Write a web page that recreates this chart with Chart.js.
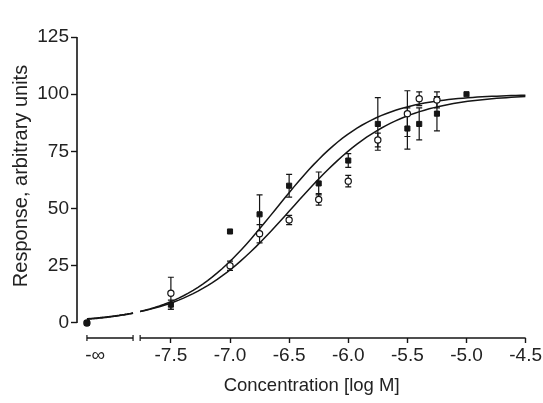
<!DOCTYPE html>
<html>
<head>
<meta charset="utf-8">
<script src="https://cdn.jsdelivr.net/npm/chart.js@4/dist/chart.umd.min.js"></script>
<style>
  html, body { margin: 0; padding: 0; background: #fff; }
  #wrap { width: 543px; height: 403px; }
</style>
</head>
<body>
<div id="wrap"><canvas id="c" width="543" height="403"></canvas></div>
<script>
// Concentrations (log M); -Infinity is the vehicle column left of the axis break
const logConc     = [-Infinity, -7.5, -7.0, -6.75, -6.5, -6.25, -6.0, -5.75, -5.5, -5.4, -5.25, -5.0];
// Filled squares: mean response and SEM
const filledMean  = [0, 8, 40, 47.5, 60, 61, 71, 87, 85, 87, 91.5, 100];
const filledSem   = [0, 2, 0, 8.5, 5, 5, 3, 11.5, 9, 7, 7.5, 0];
// Open circles: mean response and SEM
const openMean    = [0, 13, 25, 39, 45, 54, 62, 80, 91.5, 98, 97.5, null];
const openSem     = [0, 7, 2, 4, 2, 2.5, 2.5, 3, 10, 3, 3.5, null];
// Sigmoidal dose-response fits (bottom 0, top 100)
const fitFilled   = { logEC50: -6.61, hill: 1.11 };
const fitOpen     = { logEC50: -6.48, hill: 1.0 };
// Axis ticks and titles
const xTickValues = [-7.5, -7.0, -6.5, -6.0, -5.5, -5.0, -4.5];
const yTickValues = [0, 25, 50, 75, 100, 125];
const xTitle = 'Concentration [log M]';
const yTitle = 'Response, arbitrary units';

// Axis geometry
const X_MIN = -8.294, X_MAX = -4.5;
const Y_MIN = -6.56,  Y_MAX = 125;
const VEHICLE_POS = -8.21;          // x position of the -∞ column
const VEHICLE_LABEL_POS = -8.14;    // where the -∞ label is centred
const X_TITLE_POS = -6.31;          // horizontal centre of the x axis title
const AXIS_SEGMENTS = [[-8.21, -7.82], [-7.76, -4.5]];

const INK = '#151515';
const TEXT = '#222';
const FONT = '"Liberation Sans", Arial, sans-serif';

const xOf = c => (c === -Infinity ? VEHICLE_POS : c);

function points(means) {
  const out = [];
  logConc.forEach((c, i) => {
    if (means[i] !== null && means[i] !== undefined) out.push({ x: xOf(c), y: means[i] });
  });
  return out;
}

function sigmoid(fit, x) {
  return 100 / (1 + Math.pow(10, (fit.logEC50 - x) * fit.hill));
}

// Fitted curve, evaluated along each axis segment with a gap at the break
function curve(fit) {
  const out = [];
  AXIS_SEGMENTS.forEach((seg, k) => {
    const n = 80;
    for (let j = 0; j <= n; j++) {
      const x = seg[0] + (seg[1] - seg[0]) * j / n;
      out.push({ x: x, y: sigmoid(fit, x) });
    }
    if (k < AXIS_SEGMENTS.length - 1) out.push({ x: (seg[1] + AXIS_SEGMENTS[k + 1][0]) / 2, y: null });
  });
  return out;
}

// Error bars, broken axis lines and axis titles
const axesAndErrors = {
  id: 'axesAndErrors',
  beforeDatasetsDraw(chart) {
    const { ctx, scales: { x, y } } = chart;
    ctx.save();
    ctx.strokeStyle = INK;
    ctx.lineWidth = 1.2;
    const bars = [[filledMean, filledSem], [openMean, openSem]];
    bars.forEach(([means, sems]) => {
      logConc.forEach((c, i) => {
        const m = means[i], s = sems[i];
        if (m === null || !s) return;
        const px = x.getPixelForValue(xOf(c));
        const yt = y.getPixelForValue(m + s);
        const yb = y.getPixelForValue(m - s);
        ctx.beginPath();
        ctx.moveTo(px, yt); ctx.lineTo(px, yb);
        ctx.moveTo(px - 3, yt); ctx.lineTo(px + 3, yt);
        ctx.moveTo(px - 3, yb); ctx.lineTo(px + 3, yb);
        ctx.stroke();
      });
    });
    ctx.restore();
  },
  afterDraw(chart) {
    const { ctx, chartArea, scales: { x, y } } = chart;
    ctx.save();
    ctx.strokeStyle = INK;
    ctx.lineWidth = 1.6;
    // y axis line from 0 to 125
    const ax = chartArea.left;
    const yTop = y.getPixelForValue(yTickValues[yTickValues.length - 1]);
    const yZero = y.getPixelForValue(0);
    ctx.beginPath();
    ctx.moveTo(ax, yTop);
    ctx.lineTo(ax, yZero);
    ctx.stroke();
    // broken x axis
    const by = chartArea.bottom;
    AXIS_SEGMENTS.forEach((seg, k) => {
      const a = x.getPixelForValue(seg[0]);
      const b = x.getPixelForValue(seg[1]);
      ctx.lineWidth = 1.6;
      ctx.beginPath();
      ctx.moveTo(a, by); ctx.lineTo(b, by);
      ctx.stroke();
      ctx.lineWidth = 1.2;
      ctx.beginPath();
      ctx.moveTo(a, by - 3); ctx.lineTo(a, by + 3);
      if (k < AXIS_SEGMENTS.length - 1) { ctx.moveTo(b, by - 3); ctx.lineTo(b, by + 3); }
      ctx.stroke();
    });
    // axis titles
    ctx.fillStyle = TEXT;
    ctx.textAlign = 'center';
    ctx.textBaseline = 'middle';
    ctx.font = '18.5px ' + FONT;
    ctx.fillText(xTitle, x.getPixelForValue(X_TITLE_POS), 386);
    ctx.translate(21, (yTop + yZero) / 2 - 4);
    ctx.rotate(-Math.PI / 2);
    ctx.font = '20px ' + FONT;
    ctx.fillText(yTitle, 0, 0);
    ctx.restore();
  }
};

new Chart(document.getElementById('c'), {
  type: 'scatter',
  data: {
    datasets: [
      {
        label: 'filled',
        data: points(filledMean),
        pointStyle: 'rect',
        pointRadius: 3.6,
        backgroundColor: INK,
        borderColor: INK,
        borderWidth: 1
      },
      {
        label: 'open',
        data: points(openMean),
        pointStyle: 'circle',
        pointRadius: 3.1,
        backgroundColor: '#fff',
        borderColor: INK,
        borderWidth: 1.2
      },
      {
        label: 'fit filled',
        type: 'line',
        data: curve(fitFilled),
        borderColor: INK,
        borderWidth: 1.5,
        pointRadius: 0,
        spanGaps: false,
        tension: 0,
        fill: false
      },
      {
        label: 'fit open',
        type: 'line',
        data: curve(fitOpen),
        borderColor: INK,
        borderWidth: 1.5,
        pointRadius: 0,
        spanGaps: false,
        tension: 0,
        fill: false
      }
    ]
  },
  options: {
    responsive: false,
    animation: false,
    devicePixelRatio: 1,
    layout: { padding: { top: 37, right: 17, left: 0, bottom: 0 } },
    plugins: { legend: { display: false }, tooltip: { enabled: false } },
    scales: {
      x: {
        type: 'linear',
        min: X_MIN,
        max: X_MAX,
        afterBuildTicks(scale) {
          scale.ticks = [VEHICLE_LABEL_POS].concat(xTickValues).map(v => ({ value: v }));
        },
        afterFit(scale) { scale.height = 65; },
        border: { display: false },
        grid: {
          display: true,
          drawOnChartArea: false,
          drawTicks: true,
          tickLength: 5,
          tickWidth: 1.4,
          tickColor: ctx => (ctx.tick && ctx.tick.value === VEHICLE_LABEL_POS) ? 'rgba(0,0,0,0)' : INK
        },
        ticks: {
          autoSkip: false,
          maxRotation: 0,
          padding: 1,
          color: TEXT,
          font: { family: FONT, size: 19 },
          callback: v => (v === VEHICLE_LABEL_POS ? '-\u221E' : v.toFixed(1))
        },
        title: { display: false }
      },
      y: {
        type: 'linear',
        min: Y_MIN,
        max: Y_MAX,
        afterBuildTicks(scale) {
          scale.ticks = yTickValues.map(v => ({ value: v }));
        },
        afterFit(scale) { scale.width = 77; },
        border: { display: false },
        grid: {
          display: true,
          drawOnChartArea: false,
          drawTicks: true,
          tickLength: 6,
          tickWidth: 1.4,
          tickColor: INK
        },
        ticks: {
          padding: 2,
          color: TEXT,
          font: { family: FONT, size: 19 },
          callback: v => String(v)
        },
        title: { display: false }
      }
    }
  },
  plugins: [axesAndErrors]
});
</script>
</body>
</html>
